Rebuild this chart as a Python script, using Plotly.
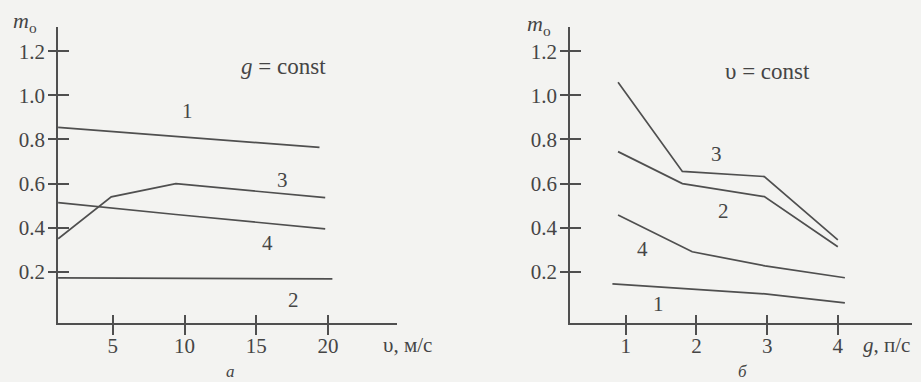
import plotly.graph_objects as go

# Left panel (a): m_o vs velocity v, g = const
a_x1 = [1.2, 10.0, 19.4]
a_y1 = [0.855, 0.81, 0.764]
a_x3 = [1.2, 4.9, 9.4, 19.8]
a_y3 = [0.35, 0.54, 0.60, 0.536]
a_x4 = [1.2, 9.4, 19.8]
a_y4 = [0.514, 0.46, 0.395]
a_x2 = [1.2, 20.3]
a_y2 = [0.173, 0.168]
a_xticks = [5, 10, 15, 20]

# Right panel (б): m_o vs g, v = const
b_x3 = [0.89, 1.80, 2.96, 4.0]
b_y3 = [1.06, 0.655, 0.632, 0.345]
b_x2 = [0.89, 1.80, 2.96, 4.0]
b_y2 = [0.745, 0.60, 0.541, 0.314]
b_x4 = [0.89, 1.94, 2.97, 4.1]
b_y4 = [0.458, 0.291, 0.227, 0.173]
b_x1 = [0.81, 2.97, 4.1]
b_y1 = [0.145, 0.10, 0.059]
b_xticks = [1, 2, 3, 4]

y_ticks = [0.2, 0.4, 0.6, 0.8, 1.0, 1.2]
y_ticklabels = ["0.2", "0.4", "0.6", "0.8", "1.0", "1.2"]

BG = "#f3f3f1"
INK = "#4f4f4f"
TXT = "#454545"
FONT = "Liberation Serif"
FS = 21

fig = go.Figure()
line = dict(color=INK, width=1.7)
for xs, ys in [(a_x1, a_y1), (a_x3, a_y3), (a_x4, a_y4), (a_x2, a_y2)]:
    fig.add_trace(go.Scatter(x=xs, y=ys, mode="lines", line=line, xaxis="x", yaxis="y",
                             showlegend=False, hoverinfo="skip"))
for xs, ys in [(b_x3, b_y3), (b_x2, b_y2), (b_x4, b_y4), (b_x1, b_y1)]:
    fig.add_trace(go.Scatter(x=xs, y=ys, mode="lines", line=line, xaxis="x2", yaxis="y2",
                             showlegend=False, hoverinfo="skip"))
# invisible traces so overlay axes (for crossing ticks) are drawn
fig.add_trace(go.Scatter(x=[None], y=[None], xaxis="x3", yaxis="y3", showlegend=False))
fig.add_trace(go.Scatter(x=[None], y=[None], xaxis="x4", yaxis="y4", showlegend=False))

ydom = [1 - 323 / 382, 1 - 27 / 382]
yrange = [-0.032, 1.31]
a_xrange = [1.19, 24.8]
b_xrange = [0.21, 5.05]

tf = dict(family=FONT, size=FS, color=TXT)
common_x = dict(showgrid=False, zeroline=False, showline=True, linecolor=INK, linewidth=1.7,
                tickmode="array", ticks="outside", ticklen=10, tickwidth=1.7, tickcolor=INK,
                tickfont=tf, ticklabelstandoff=-7, fixedrange=True)
common_y = dict(showgrid=False, zeroline=False, showline=True, linecolor=INK, linewidth=1.7,
                tickmode="array", tickvals=y_ticks, ticktext=y_ticklabels,
                ticks="outside", ticklen=8, tickwidth=1.7, tickcolor=INK,
                tickfont=tf, ticklabelstandoff=-1, range=yrange, domain=ydom, fixedrange=True)
over_x = dict(showgrid=False, zeroline=False, showline=False, tickmode="array",
              ticks="inside", ticklen=8, tickwidth=1.7, tickcolor=INK, showticklabels=False,
              fixedrange=True)
over_y = dict(showgrid=False, zeroline=False, showline=False, tickmode="array", tickvals=y_ticks,
              ticks="inside", ticklen=11, tickwidth=1.7, tickcolor=INK, showticklabels=False,
              range=yrange, fixedrange=True)

fig.update_layout(
    width=921, height=382, margin=dict(l=0, r=0, t=0, b=0),
    paper_bgcolor=BG, plot_bgcolor=BG,
    font=dict(family=FONT, size=FS, color=TXT),
    xaxis=dict(**common_x, domain=[58 / 921, 397 / 921], range=a_xrange, tickvals=a_xticks, anchor="y"),
    yaxis=dict(**common_y, anchor="x"),
    xaxis2=dict(**common_x, domain=[570 / 921, 912 / 921], range=b_xrange, tickvals=b_xticks, anchor="y2"),
    yaxis2=dict(**common_y, anchor="x2"),
    xaxis3=dict(**over_x, overlaying="x", range=a_xrange, tickvals=a_xticks, anchor="y"),
    yaxis3=dict(**over_y, overlaying="y", anchor="x"),
    xaxis4=dict(**over_x, overlaying="x2", range=b_xrange, tickvals=b_xticks, anchor="y2"),
    yaxis4=dict(**over_y, overlaying="y2", anchor="x2"),
)

ann = []
def A(text, x, y, xref, yref, size=FS, **kw):
    ann.append(dict(text=text, x=x, y=y, xref=xref, yref=yref, showarrow=False,
                    xanchor="center", yanchor="middle",
                    font=dict(family=FONT, size=size, color=TXT), **kw))

def P(text, px, py, size=FS):
    A(text, px / 921, 1 - py / 382, "paper", "paper", size=size)

# curve labels (data coordinates)
A("1", 10.2, 0.927, "x", "y")
A("3", 16.8, 0.618, "x", "y")
A("4", 15.8, 0.332, "x", "y")
A("2", 17.6, 0.073, "x", "y")
A("<i>g</i> = const", 16.9, 1.13, "x", "y", size=23)
A("3", 2.28, 0.736, "x2", "y2")
A("2", 2.38, 0.477, "x2", "y2")
A("4", 1.24, 0.305, "x2", "y2")
A("1", 1.46, 0.055, "x2", "y2")
A("υ = const", 3.01, 1.11, "x2", "y2", size=23)

# axis titles and panel letters (paper pixel positions)
P("<i>m</i><sub>o</sub>", 25, 22, size=22)
P("<i>m</i><sub>o</sub>", 539, 25, size=22)
P("υ, м/с", 407, 345)
P("<i>g</i>, п/с", 886, 345)
P("<i>а</i>", 230, 371, size=17)
P("<i>б</i>", 742, 371, size=17)

fig.update_layout(annotations=ann)
fig.write_html("out.html")
